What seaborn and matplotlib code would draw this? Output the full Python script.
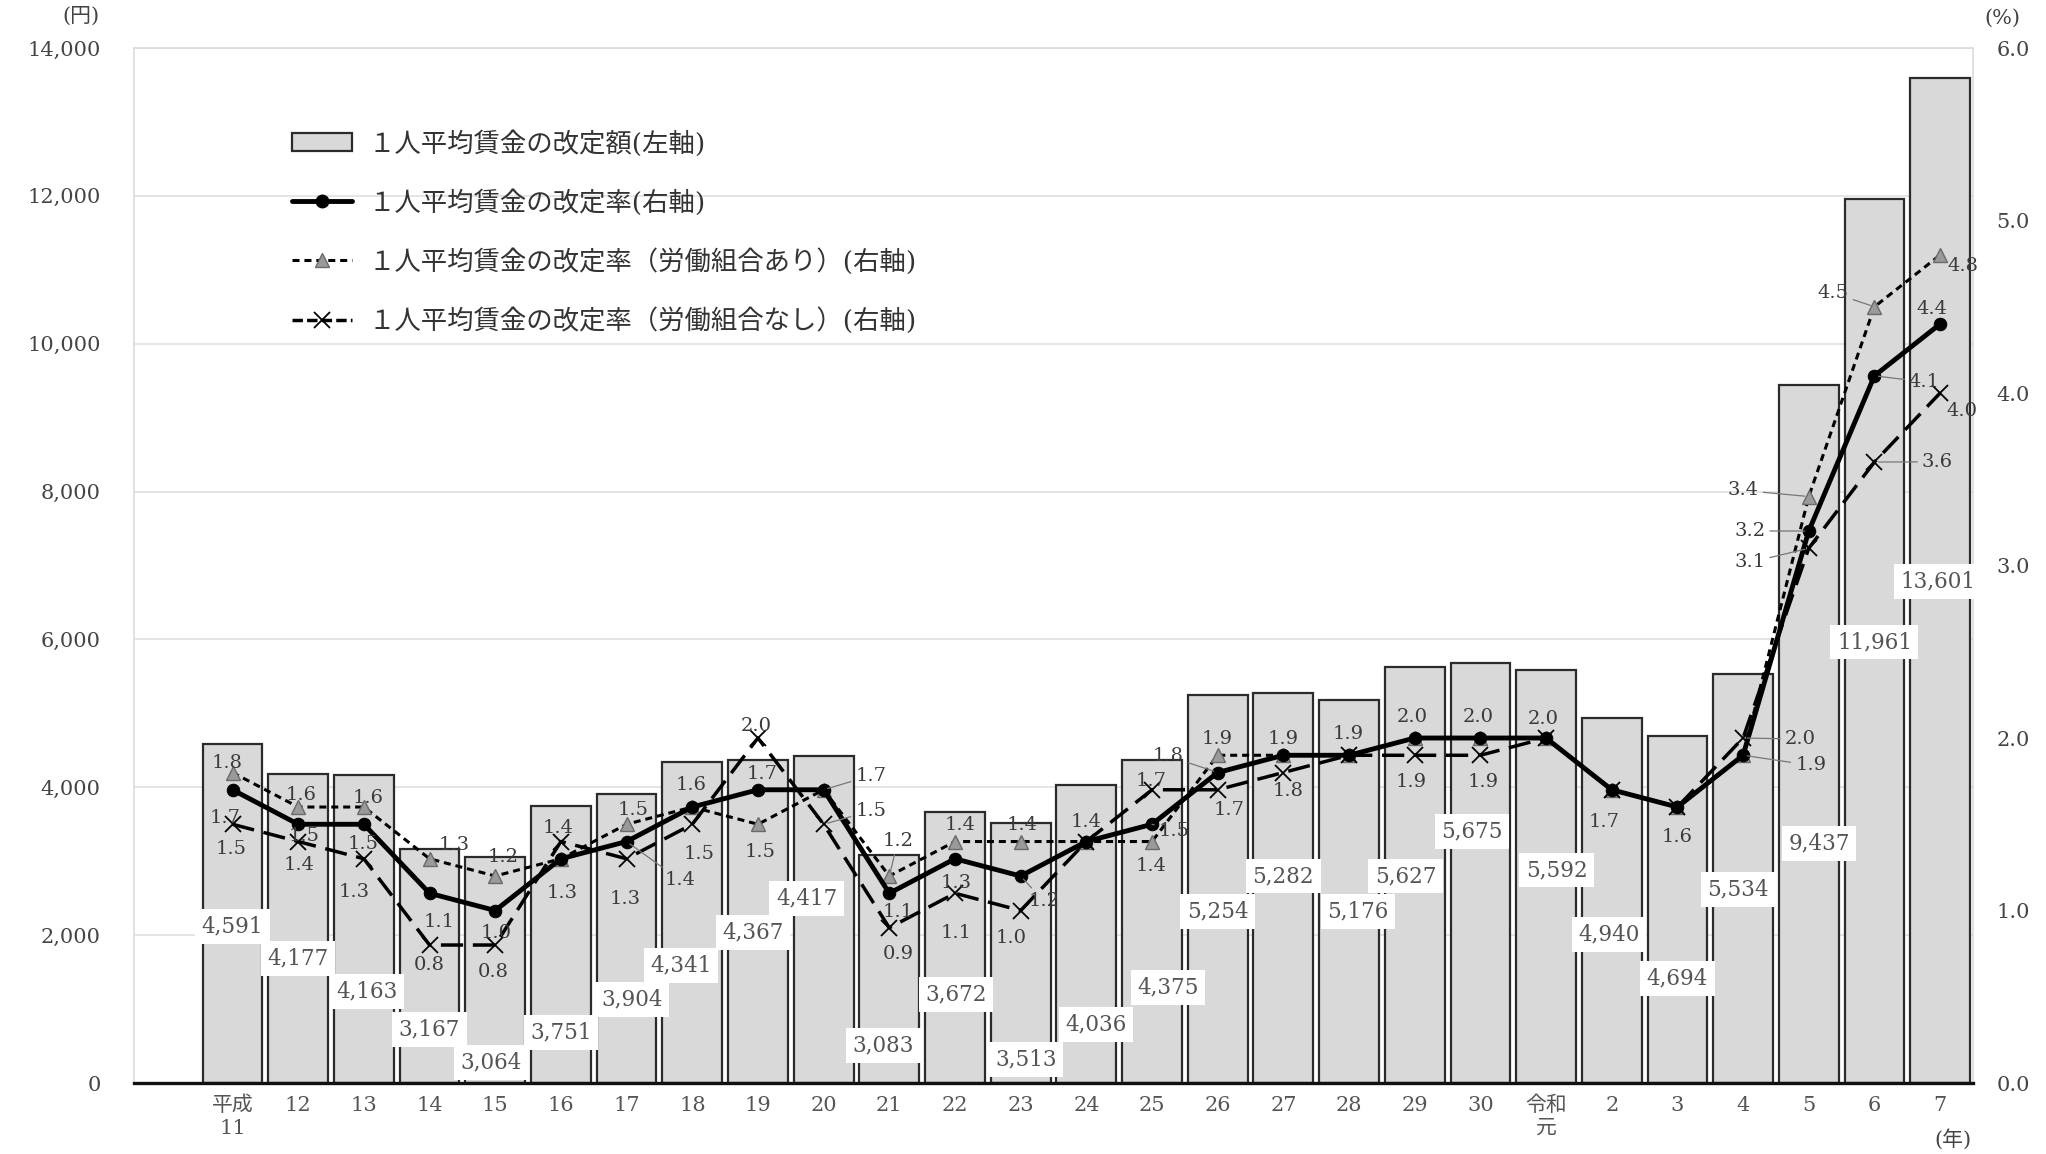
import numpy as np
import pandas as pd
import matplotlib
matplotlib.use("Agg")
import matplotlib.pyplot as plt
import seaborn as sns
from matplotlib.patches import Patch
from matplotlib.lines import Line2D

# ---------------- data ----------------
categories = ["平成\n11", "12", "13", "14", "15", "16", "17", "18", "19", "20",
              "21", "22", "23", "24", "25", "26", "27", "28", "29", "30",
              "令和\n元", "2", "3", "4", "5", "6", "7"]
amount = [4591, 4177, 4163, 3167, 3064, 3751, 3904, 4341, 4367, 4417,
          3083, 3672, 3513, 4036, 4375, 5254, 5282, 5176, 5627, 5675,
          5592, 4940, 4694, 5534, 9437, 11961, 13601]
rate_all = [1.7, 1.5, 1.5, 1.1, 1.0, 1.3, 1.4, 1.6, 1.7, 1.7,
            1.1, 1.3, 1.2, 1.4, 1.5, 1.8, 1.9, 1.9, 2.0, 2.0,
            2.0, 1.7, 1.6, 1.9, 3.2, 4.1, 4.4]
rate_union = [1.8, 1.6, 1.6, 1.3, 1.2, 1.3, 1.5, 1.6, 1.5, 1.7,
              1.2, 1.4, 1.4, 1.4, 1.4, 1.9, 1.9, 1.9, 2.0, 2.0,
              2.0, 1.7, 1.6, 1.9, 3.4, 4.5, 4.8]
rate_nonunion = [1.5, 1.4, 1.3, 0.8, 0.8, 1.4, 1.3, 1.5, 2.0, 1.5,
                 0.9, 1.1, 1.0, 1.4, 1.7, 1.7, 1.8, 1.9, 1.9, 1.9,
                 2.0, 1.7, 1.6, 2.0, 3.1, 3.6, 4.0]

legend_labels = ["１人平均賃金の改定額(左軸)",
                 "１人平均賃金の改定率(右軸)",
                 "１人平均賃金の改定率（労働組合あり）(右軸)",
                 "１人平均賃金の改定率（労働組合なし）(右軸)"]
yen_ticks = [0, 2000, 4000, 6000, 8000, 10000, 12000, 14000]
pct_ticks = [0.0, 1.0, 2.0, 3.0, 4.0, 5.0, 6.0]

# ---------------- label layout ----------------
bar_label_dx = [0, 0, 0.05, 0, -0.06, 0, 0.08, -0.17, -0.08, -0.26,
                -0.09, 0.02, 0.08, 0.15, 0.24, 0, 0, 0.14, -0.14, -0.13,
                0.16, -0.04, 0, -0.08, 0.16, 0, -0.04]
bar_label_y = [2122, 1680, 1240, 725, 280, 685, 1132, 1593, 2040, 2495,
               510, 1200, 320, 795, 1295, 2318, 2800, 2318, 2800, 3400,
               2882, 2015, 1418, 2620, 3240, 5965, 6780]

# (series, category index, label x, label y, leader line)
rate_label_layout = [
    ("union", 0, -0.08, 1.857, False), ("all", 0, -0.12, 1.539, False), ("non", 0, -0.02, 1.357, False),
    ("union", 1, 1.05, 1.668, False), ("all", 1, 1.09, 1.433, False), ("non", 1, 1.01, 1.266, False),
    ("union", 2, 2.07, 1.653, False), ("all", 2, 1.99, 1.387, False), ("non", 2, 1.85, 1.107, False),
    ("union", 3, 3.38, 1.380, False), ("all", 3, 3.14, 0.932, False), ("non", 3, 3.00, 0.682, False),
    ("union", 4, 4.12, 1.311, False), ("all", 4, 4.02, 0.872, False), ("non", 4, 3.97, 0.644, False),
    ("non", 5, 4.96, 1.478, False), ("all", 5, 5.02, 1.099, False),
    ("union", 6, 6.10, 1.584, False), ("all", 6, 6.82, 1.175, True), ("non", 6, 5.98, 1.069, False),
    ("all", 7, 6.99, 1.728, False), ("non", 7, 7.11, 1.326, False),
    ("non", 8, 7.98, 2.070, False), ("all", 8, 8.06, 1.789, False), ("union", 8, 8.04, 1.341, False),
    ("all", 9, 9.72, 1.782, True), ("non", 9, 9.72, 1.577, True),
    ("union", 10, 10.13, 1.402, True), ("all", 10, 10.13, 0.993, False), ("non", 10, 10.13, 0.750, False),
    ("union", 11, 11.08, 1.493, False), ("all", 11, 11.02, 1.160, False), ("non", 11, 11.02, 0.872, False),
    ("union", 12, 12.02, 1.493, False), ("all", 12, 12.35, 1.054, True), ("non", 12, 11.86, 0.841, False),
    ("all", 13, 12.99, 1.516, False),
    ("non", 14, 13.98, 1.751, False), ("all", 14, 14.34, 1.463, True), ("union", 14, 13.98, 1.258, False),
    ("all", 15, 14.25, 1.895, True), ("union", 15, 15.00, 1.994, False), ("non", 15, 15.17, 1.584, False),
    ("all", 16, 15.99, 1.994, False), ("non", 16, 16.07, 1.691, False),
    ("all", 17, 16.98, 2.024, False),
    ("all", 18, 17.96, 2.123, False), ("non", 18, 17.94, 1.744, False),
    ("all", 19, 18.97, 2.123, False), ("non", 19, 19.05, 1.744, False),
    ("all", 20, 19.96, 2.108, False),
    ("all", 21, 20.89, 1.516, False),
    ("all", 22, 22.00, 1.425, False),
    ("non", 23, 23.87, 1.994, True), ("all", 23, 24.03, 1.842, True),
    ("union", 24, 23.00, 3.435, True), ("all", 24, 23.10, 3.200, True), ("non", 24, 23.10, 3.018, True),
    ("union", 25, 24.37, 4.580, True), ("all", 25, 25.76, 4.064, True), ("non", 25, 25.96, 3.601, True),
    ("union", 26, 26.35, 4.739, False), ("all", 26, 25.88, 4.489, False), ("non", 26, 26.33, 3.897, False),
]

# ---------------- style ----------------
sns.set_style("white")
plt.rcParams["font.family"] = ["DejaVu Serif", "Noto Sans CJK JP"]

BAR_FACE = "#d9d9d9"
BAR_EDGE = "#2b2b2b"
TXT = "#444444"

fig = plt.figure(figsize=(20.46, 11.54), dpi=100)
ax = fig.add_axes([0.0655, 0.0615, 0.8988, 0.8969])

df = pd.DataFrame({"year": categories, "amount": amount})
sns.barplot(data=df, x="year", y="amount", ax=ax, color=BAR_FACE, saturation=1,
            width=0.91, edgecolor=BAR_EDGE, linewidth=1.6, zorder=2)

ax.set_xlim(-1.5, 26.5)
ax.set_ylim(0, 14000)
ax.set_xlabel("")
ax.set_ylabel("")
ax.set_yticks(yen_ticks)
ax.set_yticklabels([f"{v:,}" for v in yen_ticks])
ax.yaxis.grid(True, color="#e3e3e3", lw=1.3)
ax.xaxis.grid(False)
ax.set_axisbelow(True)
ax.tick_params(axis="y", length=0, pad=24, labelsize=15, labelcolor=TXT)
ax.tick_params(axis="x", length=0, pad=9, labelsize=15, labelcolor="#555555")
for lbl in ax.get_xticklabels():
    lbl.set_linespacing(1.25)
for s in ["left", "top", "right"]:
    ax.spines[s].set_color("#dcdcdc")
    ax.spines[s].set_linewidth(1.2)
ax.spines["bottom"].set_color("#111111")
ax.spines["bottom"].set_linewidth(2.4)

# bar value labels
for i, v in enumerate(amount):
    ax.text(i + bar_label_dx[i], bar_label_y[i], f"{v:,}", ha="center", va="center",
            fontsize=15.5, color="#555555", zorder=4,
            bbox=dict(boxstyle="square,pad=0.3", fc="white", ec="none"))

# ---------------- rates (right axis) ----------------
ax2 = ax.twinx()
pos = np.arange(len(categories))
sns.lineplot(x=pos, y=rate_union, ax=ax2, color="black", lw=2.2,
             linestyle=(0, (2.3, 1.6)), marker="^", markersize=10,
             markerfacecolor="#9a9a9a", markeredgecolor="#6a6a6a", markeredgewidth=1,
             zorder=3)
sns.lineplot(x=pos, y=rate_nonunion, ax=ax2, color="black", lw=2.5,
             linestyle=(0, (6.4, 2.8)), marker="x", markersize=11,
             markeredgecolor="black", markeredgewidth=1.3, zorder=3)
sns.lineplot(x=pos, y=rate_all, ax=ax2, color="black", lw=3.5,
             marker="o", markersize=9, markerfacecolor="black",
             markeredgecolor="black", zorder=4)

ax2.set_ylim(0, 6)
ax2.set_xlim(-1.5, 26.5)
ax2.set_yticks(pct_ticks)
ax2.set_yticklabels([f"{v:.1f}" for v in pct_ticks])
ax2.set_ylabel("")
ax2.tick_params(axis="y", length=0, pad=17, labelsize=15, labelcolor=TXT)
for s in ax2.spines.values():
    s.set_visible(False)
ax2.grid(False)

series = {"all": rate_all, "union": rate_union, "non": rate_nonunion}
for key, ci, lx, ly, leader in rate_label_layout:
    val = series[key][ci]
    if leader:
        ax2.annotate(f"{val:.1f}", xy=(ci, val), xytext=(lx, ly), textcoords="data",
                     ha="center", va="center", fontsize=14, color="#3a3a3a", zorder=6,
                     arrowprops=dict(arrowstyle="-", color="#777777", lw=0.9,
                                     shrinkA=1, shrinkB=3))
    else:
        ax2.text(lx, ly, f"{val:.1f}", ha="center", va="center", fontsize=14,
                 color="#3a3a3a", zorder=6)

# ---------------- legend ----------------
handles = [
    Patch(facecolor=BAR_FACE, edgecolor=BAR_EDGE, linewidth=1.6),
    Line2D([], [], color="black", lw=3.5, marker="o", markersize=9),
    Line2D([], [], color="black", lw=2.2, linestyle=(0, (2.3, 1.6)), marker="^",
           markersize=10, markerfacecolor="#9a9a9a", markeredgecolor="#6a6a6a"),
    Line2D([], [], color="black", lw=2.5, linestyle=(0, (3.0, 1.2)), marker="x",
           markersize=11, markeredgecolor="black", markeredgewidth=1.3),
]
ax.legend(handles, legend_labels, loc="upper left", bbox_to_anchor=(0.086, 0.921),
          frameon=False, fontsize=19, handlelength=2.27, handletextpad=0.64,
          labelspacing=1.23, borderpad=0, borderaxespad=0, labelcolor="#333333")

# unit labels
fig.text(0.0396, 0.986, "(円)", ha="center", va="center", fontsize=15, color=TXT)
fig.text(0.9785, 0.984, "(%)", ha="center", va="center", fontsize=15, color=TXT)
fig.text(0.9545, 0.013, "(年)", ha="center", va="center", fontsize=15, color=TXT)

fig.savefig("out.png", dpi=100)
